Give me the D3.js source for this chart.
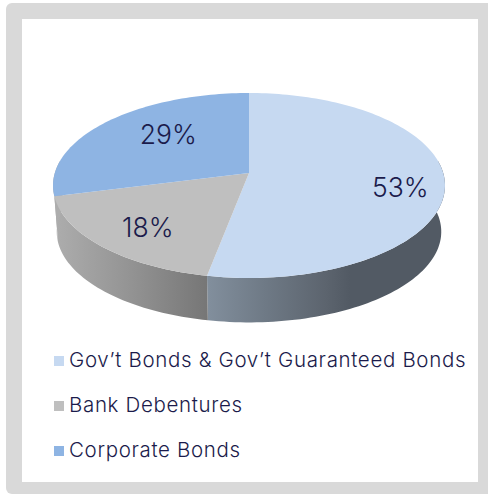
<!DOCTYPE html>
<html>
<head>
<meta charset="utf-8">
<script src="https://cdn.jsdelivr.net/npm/d3@7"></script>
<style>
html,body{margin:0;padding:0;background:#fff;overflow:hidden}
svg{display:block}
text{font-family:Inter,"DejaVu Sans",sans-serif;fill:#1b1b4b}
</style>
</head>
<body>
<svg id="chart" width="488" height="495"></svg>
<script>
// Portfolio allocation
const categories = ["Gov\u2019t Bonds & Gov\u2019t Guaranteed Bonds", "Bank Debentures", "Corporate Bonds"];
const shares = [53, 18, 29];
const sliceColors = ["#c6d9f1", "#bfbfbf", "#8eb4e3"];

// Horizontal shading of the rim under each slice
const rimStops = [
  [[0, "#828f9d"], [0.25, "#6e7985"], [0.5, "#5c646e"], [0.6, "#525a64"], [1, "#525a64"]],
  [[0, "#adadad"], [0.5, "#939393"], [1, "#767676"]],
  [[0, "#adadad"], [1, "#adadad"]]
];

const svg = d3.select("#chart");

// Card frame
svg.append("rect").attr("x", 6).attr("y", 3).attr("width", 490).attr("height", 491).attr("rx", 6).attr("fill", "#d9d9d9");
svg.append("rect").attr("x", 22).attr("y", 19).attr("width", 456).attr("height", 463).attr("fill", "#fff");

// Tilted disc: a unit circle seen in perspective, with the near edge larger
const tilt = 0.135;
function projector(cx, cy, a, b) {
  return (angle, r = 1) => {
    const X = r * Math.sin(angle), Y = -r * Math.cos(angle), w = 1 - tilt * Y;
    return [cx + a * X / w, cy + b * Y / w];
  };
}
const topDisc = projector(249, 173, 194.2, 90.8);
const baseDisc = projector(249, 219.5, 190.5, 89);

const pie = d3.pie().sort(null)(shares);
const path = d3.line();
const tau = 2 * Math.PI;
const stepsFor = (a0, a1) => d3.range(0, 1.0001, 1 / Math.max(2, Math.ceil((a1 - a0) * 40)));
const arcPoints = (disc, a0, a1) => stepsFor(a0, a1).map(t => disc(a0 + (a1 - a0) * t));

const defs = svg.append("defs");

// Rim: only the stretch of the disc facing the viewer is drawn
const rimFrom = Math.PI / 2 - tilt;
const rimTo = tau - Math.PI / 2 + tilt;
pie.forEach((d, i) => {
  const a0 = Math.max(d.startAngle, rimFrom), a1 = Math.min(d.endAngle, rimTo);
  if (a1 <= a0) return;
  const outline = arcPoints(topDisc, a0, a1).concat(arcPoints(baseDisc, a0, a1).reverse());
  const xs = d3.extent(outline, p => p[0]);
  const grad = defs.append("linearGradient").attr("id", "rim" + i)
    .attr("gradientUnits", "userSpaceOnUse")
    .attr("x1", xs[0]).attr("x2", xs[1])
    .attr("y1", 0).attr("y2", 0);
  rimStops[i].forEach(([o, c]) => grad.append("stop").attr("offset", o).attr("stop-color", c));
  svg.append("path").attr("d", path(outline) + "Z").attr("fill", `url(#rim${i})`);
});

// Top face
pie.forEach((d, i) => {
  const pts = [topDisc(0, 0)].concat(arcPoints(topDisc, d.startAngle, d.endAngle));
  svg.append("path").attr("d", path(pts) + "Z").attr("fill", sliceColors[i]);
});

// Percentage labels
const labelNudge = [[3, 8], [8, 1], [29, 2]];
pie.forEach((d, i) => {
  const [x, y] = topDisc((d.startAngle + d.endAngle) / 2, 0.76);
  svg.append("text")
    .attr("x", x + labelNudge[i][0]).attr("y", y + labelNudge[i][1] + 9)
    .attr("text-anchor", "middle")
    .attr("font-size", 26.5)
    .attr("font-weight", 300)
    .text(shares[i] + "%");
});

// Legend
const legendY = d3.scalePoint().domain(categories).range([367, 457]);
categories.forEach((c, i) => {
  const y = legendY(c);
  svg.append("rect").attr("x", 54).attr("y", y - 11).attr("width", 10).attr("height", 10).attr("fill", sliceColors[i]);
  svg.append("text").attr("x", 69).attr("y", y).attr("font-size", 20.5).attr("font-weight", 300).attr("letter-spacing", 0.66).text(c);
});
</script>
</body>
</html>
